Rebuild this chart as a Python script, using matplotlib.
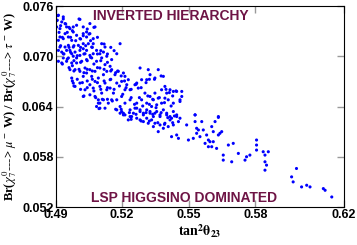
import numpy as np
import matplotlib
matplotlib.use("Agg")
from matplotlib import pyplot as plt

# tan^2 theta_23 values
tan2 = [
    0.4905, 0.4913, 0.4908, 0.4935, 0.4928, 0.4943, 0.4905, 0.4920, 0.4950, 0.4965,
    0.4980, 0.4995, 0.5010, 0.5025, 0.5055, 0.5078, 0.5040, 0.5025, 0.4980, 0.4943,
    0.4920, 0.4913, 0.4935, 0.4958, 0.4973, 0.4995, 0.5010, 0.5040, 0.5055, 0.5070,
    0.5048, 0.5025, 0.5003, 0.4980, 0.4958, 0.4943, 0.4920, 0.4913, 0.4928, 0.4935,
    0.4950, 0.4965, 0.4973, 0.4988, 0.5010, 0.5025, 0.5040, 0.5063, 0.5070, 0.5085,
    0.5108, 0.5123, 0.5116, 0.5100, 0.5070, 0.5055, 0.5033, 0.5010, 0.4995, 0.4980,
    0.4958, 0.4935, 0.4913, 0.4928, 0.4950, 0.4973, 0.4995, 0.5018, 0.5040, 0.5063,
    0.5085, 0.5108, 0.5131, 0.5153, 0.5176, 0.5191, 0.5146, 0.5123, 0.5100, 0.5078,
    0.5055, 0.5033, 0.5010, 0.4988, 0.4965, 0.4973, 0.4980, 0.4988, 0.5010, 0.5025,
    0.5040, 0.5063, 0.5078, 0.5093, 0.5116, 0.5131, 0.5153, 0.5168, 0.5183, 0.5206,
    0.5213, 0.5228, 0.5198, 0.5176, 0.5146, 0.5123, 0.5100, 0.5070, 0.5055, 0.5033,
    0.5025, 0.5055, 0.5078, 0.5093, 0.5108, 0.5131, 0.5146, 0.5161, 0.5153, 0.5138,
    0.5116, 0.5100, 0.5085, 0.5123, 0.5176, 0.5198, 0.5213, 0.5221, 0.5236, 0.5258,
    0.5273, 0.5281, 0.5266, 0.5288, 0.5311, 0.5326, 0.5348, 0.5363, 0.5318, 0.5303,
    0.5326, 0.5348, 0.5341, 0.5363, 0.5378, 0.5386, 0.5393, 0.5401, 0.5416, 0.5431,
    0.5446, 0.5469, 0.5469, 0.5461, 0.5431, 0.5408, 0.5393, 0.5378, 0.5356, 0.5333,
    0.5311, 0.5288, 0.5266, 0.5236, 0.5213, 0.5191, 0.5176, 0.5206, 0.5236, 0.5258,
    0.5281, 0.5296, 0.5326, 0.5348, 0.5371, 0.5401, 0.5423, 0.5446, 0.5529, 0.5634,
    0.5100, 0.5093, 0.5198, 0.5206, 0.5236, 0.5251, 0.5266, 0.5281, 0.5296, 0.5311,
    0.5326, 0.5341, 0.5356, 0.5371, 0.5386, 0.5401, 0.5416, 0.5431, 0.5446, 0.5461,
    0.5461, 0.5454, 0.5431, 0.5416, 0.5393, 0.5371, 0.5348, 0.5333, 0.5311, 0.5296,
    0.5281, 0.5266, 0.5243, 0.5228, 0.5213, 0.5191, 0.5318, 0.5341, 0.5363, 0.5386,
    0.5408, 0.5423, 0.5446, 0.5454, 0.5491, 0.5499, 0.5521, 0.5529, 0.5529, 0.5536,
    0.5536, 0.5544, 0.5551, 0.5559, 0.5566, 0.5574, 0.5581, 0.5589, 0.5589, 0.5596,
    0.5604, 0.5604, 0.5611, 0.5611, 0.5619, 0.5634, 0.5634, 0.5641, 0.5649, 0.5626,
    0.5656, 0.5656, 0.5694, 0.5679, 0.5701, 0.5724, 0.5754, 0.5761, 0.5776, 0.5806,
    0.5806, 0.5806, 0.5836, 0.5844, 0.5859, 0.5844, 0.5851, 0.5844, 0.5964, 0.5971,
    0.5986, 0.6009, 0.6032, 0.6047, 0.6107, 0.6115, 0.6145,
    # denser upper-left cluster
    0.4911, 0.4905, 0.4935, 0.4923, 0.4946, 0.4961, 0.4916, 0.4953, 0.4976, 0.5006,
    0.5043, 0.5073, 0.5025, 0.5051, 0.4931, 0.4968, 0.4991, 0.5013, 0.5058, 0.5089,
    0.5119, 0.5149, 0.4923, 0.4961, 0.4983, 0.5013, 0.5036, 0.5066, 0.5104, 0.5134,
    0.5164, 0.4938, 0.4968, 0.4998, 0.5028, 0.5058, 0.5089, 0.4953, 0.4983, 0.5013,
    0.5043, 0.5073, 0.5104, 0.5134, 0.4931, 0.4976,
    # middle band
    0.5180, 0.5196, 0.5211, 0.5188, 0.5218, 0.5241, 0.5263, 0.5286, 0.5308, 0.5323,
    0.5346, 0.5376, 0.5398, 0.5413, 0.5428, 0.5443, 0.5203, 0.5241, 0.5278, 0.5316,
    0.5338, 0.5368, 0.5256, 0.5293, 0.5323, 0.5353, 0.5391, 0.5421, 0.5196, 0.5233,
    0.5263, 0.5308, 0.5338, 0.5376, 0.5406, 0.5436, 0.5241, 0.5286, 0.5323, 0.5361,
    0.5391, 0.5428,
    0.4961, 0.4983, 0.5006, 0.5028, 0.5043, 0.5066, 0.5089, 0.5119, 0.5149, 0.5171,
    0.4976, 0.4998, 0.5021, 0.5043, 0.5066, 0.5089, 0.5119, 0.5149, 0.4983, 0.5013,
    0.5043, 0.5073, 0.5104, 0.5134, 0.5164, 0.5028, 0.5081, 0.5111, 0.5134, 0.5156,
    0.5096, 0.5171,
]

# Br(chi -> mu W) / Br(chi -> tau W) ratio for the same points
ratio = [
    0.0760, 0.0749, 0.0743, 0.0747, 0.0741, 0.0739, 0.0735, 0.0733, 0.0735, 0.0733,
    0.0735, 0.0737, 0.0744, 0.0735, 0.0739, 0.0735, 0.0729, 0.0727, 0.0729, 0.0727,
    0.0723, 0.0719, 0.0721, 0.0723, 0.0719, 0.0725, 0.0721, 0.0723, 0.0727, 0.0721,
    0.0715, 0.0715, 0.0713, 0.0711, 0.0713, 0.0711, 0.0711, 0.0707, 0.0705, 0.0703,
    0.0707, 0.0707, 0.0703, 0.0705, 0.0707, 0.0709, 0.0707, 0.0711, 0.0715, 0.0707,
    0.0715, 0.0711, 0.0705, 0.0703, 0.0703, 0.0701, 0.0703, 0.0701, 0.0698, 0.0700,
    0.0698, 0.0698, 0.0694, 0.0692, 0.0694, 0.0692, 0.0692, 0.0694, 0.0696, 0.0698,
    0.0694, 0.0698, 0.0700, 0.0696, 0.0703, 0.0715, 0.0688, 0.0690, 0.0686, 0.0682,
    0.0684, 0.0686, 0.0682, 0.0684, 0.0684, 0.0674, 0.0668, 0.0664, 0.0668, 0.0676,
    0.0680, 0.0676, 0.0670, 0.0674, 0.0678, 0.0682, 0.0684, 0.0678, 0.0682, 0.0680,
    0.0676, 0.0672, 0.0670, 0.0668, 0.0672, 0.0668, 0.0664, 0.0662, 0.0666, 0.0660,
    0.0652, 0.0654, 0.0652, 0.0648, 0.0656, 0.0660, 0.0662, 0.0656, 0.0648, 0.0644,
    0.0648, 0.0644, 0.0640, 0.0638, 0.0648, 0.0652, 0.0660, 0.0666, 0.0660, 0.0666,
    0.0662, 0.0686, 0.0668, 0.0672, 0.0672, 0.0678, 0.0674, 0.0684, 0.0684, 0.0656,
    0.0652, 0.0656, 0.0648, 0.0650, 0.0660, 0.0676, 0.0664, 0.0656, 0.0660, 0.0658,
    0.0658, 0.0658, 0.0652, 0.0648, 0.0644, 0.0648, 0.0650, 0.0644, 0.0642, 0.0640,
    0.0644, 0.0648, 0.0644, 0.0648, 0.0644, 0.0640, 0.0636, 0.0632, 0.0636, 0.0638,
    0.0636, 0.0632, 0.0634, 0.0632, 0.0628, 0.0630, 0.0626, 0.0628, 0.0630, 0.0627,
    0.0638, 0.0644, 0.0634, 0.0630, 0.0628, 0.0632, 0.0638, 0.0634, 0.0630, 0.0636,
    0.0632, 0.0628, 0.0634, 0.0630, 0.0636, 0.0632, 0.0628, 0.0634, 0.0630, 0.0646,
    0.0626, 0.0622, 0.0618, 0.0624, 0.0620, 0.0618, 0.0620, 0.0624, 0.0626, 0.0622,
    0.0624, 0.0626, 0.0628, 0.0624, 0.0630, 0.0632, 0.0620, 0.0616, 0.0610, 0.0614,
    0.0616, 0.0604, 0.0606, 0.0602, 0.0618, 0.0600, 0.0602, 0.0630, 0.0622, 0.0614,
    0.0608, 0.0612, 0.0604, 0.0622, 0.0612, 0.0596, 0.0606, 0.0600, 0.0592, 0.0598,
    0.0616, 0.0592, 0.0598, 0.0610, 0.0622, 0.0628, 0.0606, 0.0608, 0.0610, 0.0590,
    0.0582, 0.0576, 0.0574, 0.0594, 0.0596, 0.0584, 0.0576, 0.0580, 0.0582, 0.0600,
    0.0594, 0.0588, 0.0586, 0.0582, 0.0586, 0.0574, 0.0570, 0.0564, 0.0556, 0.0550,
    0.0566, 0.0544, 0.0546, 0.0544, 0.0542, 0.0540, 0.0532,
    # denser upper-left cluster
    0.07485, 0.07425, 0.07445, 0.07365, 0.07385, 0.07345, 0.07285, 0.07285, 0.07305, 0.07445,
    0.07325, 0.07345, 0.07245, 0.07265, 0.07226, 0.07226, 0.07186, 0.07206, 0.07186, 0.07226,
    0.07146, 0.07106, 0.07126, 0.07106, 0.07126, 0.07106, 0.07126, 0.07106, 0.07067, 0.07027,
    0.07067, 0.07027, 0.07047, 0.07007, 0.07027, 0.06987, 0.07027, 0.06967, 0.06947, 0.06927,
    0.06947, 0.06907, 0.06947, 0.06927, 0.06907, 0.06887,
    # middle band
    0.06824, 0.06765, 0.06705, 0.06645, 0.06625, 0.06605, 0.06665, 0.06625, 0.06685, 0.06725,
    0.06725, 0.06765, 0.06605, 0.06566, 0.06526, 0.06586, 0.06546, 0.06506, 0.06506, 0.06526,
    0.06486, 0.06506, 0.06426, 0.06406, 0.06426, 0.06386, 0.06446, 0.06406, 0.06367, 0.06327,
    0.06307, 0.06327, 0.06307, 0.06327, 0.06267, 0.06287, 0.06247, 0.06227, 0.06227, 0.06207,
    0.06187, 0.06207,
    0.06864, 0.06824, 0.06844, 0.06804, 0.06844, 0.06824, 0.06864, 0.06844, 0.06824, 0.06804,
    0.06705, 0.06725, 0.06685, 0.06705, 0.06725, 0.06685, 0.06705, 0.06725, 0.06645, 0.06605,
    0.06625, 0.06586, 0.06605, 0.06625, 0.06605, 0.06526, 0.06506, 0.06486, 0.06486, 0.06466,
    0.06375, 0.06367,
]

x_ticks = [0.49, 0.52, 0.55, 0.58, 0.62]
y_ticks = [0.052, 0.058, 0.064, 0.070, 0.076]

plt.rcParams["mathtext.fontset"] = "stix"

fig = plt.figure(figsize=(3.57, 2.45), dpi=100)
ax = fig.add_axes([0.1555, 0.155, 0.808, 0.8205])

ax.scatter(tan2, ratio, s=5, color="#0000ff", edgecolors="none")

ax.set_xlim(0.49, 0.62)
ax.set_ylim(0.052, 0.076)
ax.set_xticks(x_ticks)
ax.set_yticks(y_ticks)
ax.set_xticklabels([f"{t:.2f}" for t in x_ticks], fontfamily="Liberation Sans",
                   fontweight="bold", fontsize=9)
ax.set_yticklabels([f"{t:.3f}" for t in y_ticks], fontfamily="Liberation Sans",
                   fontweight="bold", fontsize=9)
ax.tick_params(direction="in", length=5, width=1, color="#999999",
               top=True, right=True, pad=1.5)

ax.set_xlabel(r"tan$^{\mathbf{2}}\mathbf{\theta}_{\mathbf{23}}$", fontfamily="Liberation Serif",
              fontweight="bold", fontsize=10, labelpad=1)
ax.set_ylabel(r"Br($\chi^{\,0}_{\,7}$---> $\mu^-$ W) / Br($\chi^{\,0}_{\,7}$---> $\tau^-$ W)",
              fontfamily="Liberation Serif", fontweight="bold", fontsize=9, labelpad=2)

maroon = "#6e1445"
ax.text(0.40, 0.985, "INVERTED HIERARCHY", transform=ax.transAxes, ha="center", va="top",
        color=maroon, fontfamily="Liberation Sans", fontweight="bold", fontsize=10)
ax.text(0.447, 0.012, "LSP HIGGSINO DOMINATED", transform=ax.transAxes, ha="center",
        va="bottom", color=maroon, fontfamily="Liberation Sans", fontweight="bold",
        fontsize=10)

fig.savefig("out.png", dpi=100)
